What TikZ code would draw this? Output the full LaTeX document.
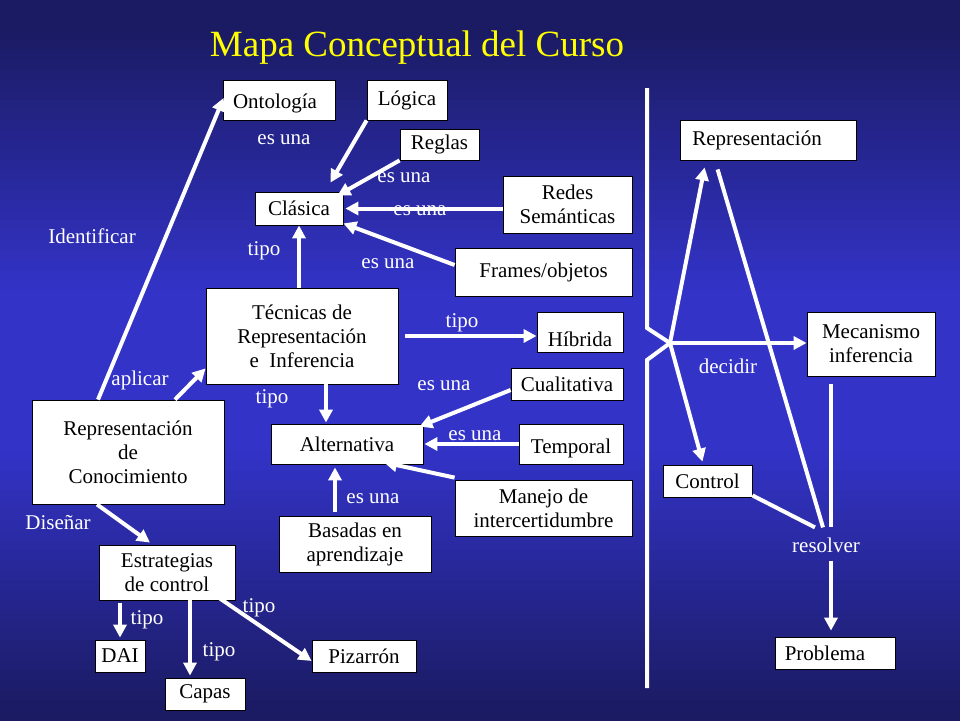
\documentclass[tikz,border=0pt]{standalone}
\usepackage{fontspec}
\setmainfont{Liberation Serif}
\usetikzlibrary{arrows.meta}

\definecolor{fondoarriba}{RGB}{27,27,100}
\definecolor{fondomedio}{RGB}{51,51,200}
\definecolor{amarillo}{RGB}{255,255,0}

\tikzset{
  concepto/.style={draw=black, line width=0.8pt, fill=white, text=black, align=center,
    inner sep=2pt, font=\fontsize{21}{24}\selectfont},
  etiqueta/.style={text=white, inner sep=2pt, font=\fontsize{21}{24}\selectfont},
  titulo/.style={text=amarillo, inner sep=0pt, font=\fontsize{37}{40}\selectfont},
  linea/.style={draw=white, line width=4pt},
  flecha/.style={linea, -{Triangle[length=13pt,width=13pt]}}
}

\begin{document}
\begin{tikzpicture}[x=1pt, y=-1pt]
    % Background, in bands: dark at top and bottom, bright in the middle
    \useasboundingbox (0,0) rectangle (960,720);
    \foreach \i in {0,...,71} {
      \pgfmathsetmacro\p{min(100,max(0,130-abs(\i*10+5-370)/2.6))}
      \fill[fondomedio!\p!fondoarriba] (0,\i*10) rectangle (960,\i*10+10.6);
    }

    \node[titulo] (titulo) at (417,48) {Mapa Conceptual del Curso};

    % Concepts
    \foreach \nombre/\x/\y/\w/\h/\texto in {onto/279/100/112/40/{\rule{0pt}{22pt}Ontología\hspace{8pt}}, logica/407/100/80/40/{Lógica}, reglas/439.5/144.5/79/31/{Reglas}, clasica/299/208.5/88/33/{Clásica}, redes/567.5/204.5/129/57/{Redes\\Semánticas}, frames/543.5/272/177/48/{Frames/objetos}, tecnicas/302/336/192/96/{Técnicas de\\Representación\\e~ Inferencia}, hibrida/580/332/86/40/{\rule{0pt}{30pt}Híbrida}, cualit/567/384/112/32/{Cualitativa}, altern/347/444/152/40/{Alternativa}, temporal/571/444/104/40/{\rule{0pt}{24pt}Temporal}, manejo/543.5/508/177/56/{Manejo de\\intercertidumbre}, basadas/355/544/152/56/{Basadas en\\aprendizaje}, rdc/128/452/192/104/{Representación\\de\\Conocimiento}, estrat/167/572.5/136/55/{Estrategias\\de control}, dai/120/656/50/32/{DAI}, capas/205/694/80/32/{Capas}, pizarron/364/656/104/32/{Pizarrón}, repr/768/140/176/40/{Representación\hspace{22pt}}, mecan/871/344/128/64/{Mecanismo\\inferencia}, control/707.5/481/89/32/{Control}, problema/835/653/120/32/{Problema\hspace{20pt}}} {
      \node[concepto, minimum width=\w pt, minimum height=\h pt] (\nombre) at (\x,\y) {\texto};
    }

    % Link labels
    \foreach \x/\y/\texto [count=\i] in {284/140/es una, 404/178/es una, 420/211/es una, 388/264/es una, 264/251/tipo, 92/236/Identificar, 140/380/aplicar, 272/399/tipo, 462/323/tipo, 444/386/es una, 475/436/es una, 373/499/es una, 58/523/Diseñar, 147/620/tipo, 219/652/tipo, 259/608/tipo, 728/366/decidir} {
      \node[etiqueta] (et\i) at (\x,\y) {\texto};
    }
    \node[etiqueta] (resolver) at (826,545) {resolver};

    % Links of the left map
    \draw[flecha] ([xshift=-30pt]rdc.north) -- ([xshift=1pt,yshift=2pt]onto.west);
    \draw[flecha] ([xshift=47pt]rdc.north) -- ([yshift=16pt]tecnicas.south west);
    \draw[flecha] ([xshift=-31pt]rdc.south) -- ([xshift=-17pt,yshift=2pt]estrat.north);
    \draw[flecha] (tecnicas.north -| clasica.south) -- (clasica.south);
    \draw[flecha] ([xshift=7pt]tecnicas.east) -- (tecnicas.east -| hibrida.west);
    \draw[flecha] ([xshift=24pt]tecnicas.south) -- ([xshift=-21pt,yshift=1pt]altern.north);
    \draw[flecha] (logica.south west) -- ([xshift=-13pt,yshift=9pt]clasica.north east);
    \draw[flecha] (reglas.south west) -- ([xshift=-6pt,yshift=-4pt]clasica.north east);
    \draw[flecha] (redes.west |- clasica.east) -- ([xshift=2pt]clasica.east);
    \draw[flecha] ([yshift=7pt]frames.west) -- ([yshift=2pt]clasica.south east);
    \draw[flecha] ([yshift=-6pt]cualit.west) -- ([xshift=-4pt,yshift=-3pt]altern.north east);
    \draw[flecha] (temporal.west) -- ([xshift=1pt]altern.east);
    \draw[flecha] ([yshift=2pt]manejo.north west) -- ([xshift=37pt,yshift=2pt]altern.south);
    \draw[flecha] ([xshift=-20pt,yshift=4pt]basadas.north) -- ([xshift=-12pt,yshift=-3pt]altern.south);
    \draw[flecha] ([xshift=-47pt,yshift=-3pt]estrat.south) -- ([yshift=2pt]dai.north);
    \draw[flecha] ([xshift=23pt]estrat.south) -- ([xshift=-15pt,yshift=2pt]capas.north);
    \draw[flecha] ([xshift=-20pt,yshift=5pt]estrat.south east) -- ([yshift=-5pt]pizarron.west);

    % Right map
    \coordinate (vtop) at (647,88);
    \coordinate (vbrk1) at (647,328);
    \coordinate (cruce) at (670,343);
    \coordinate (vbrk2) at (647,360);
    \coordinate (vbot) at (647,688);
    \draw[linea] (vtop) -- (vbrk1) -- (cruce) -- (vbrk2) -- (vbot);
    \draw[flecha] (cruce) -- ([xshift=25pt,yshift=-7pt]repr.south west);
    \draw[flecha] (cruce) -- ([xshift=-5pt,yshift=3pt]control.north);
    \draw[flecha] (cruce) -- (cruce -| mecan.west);
    \draw[linea] ([xshift=38pt,yshift=-9pt]repr.south west) -- ([xshift=-3pt,yshift=8pt]resolver.north);
    \draw[linea] ([yshift=2pt]control.south east) -- ([xshift=-11pt,yshift=8pt]resolver.north);
    \draw[linea] ([xshift=-40pt,yshift=-8pt]mecan.south) -- ([xshift=5pt,yshift=8pt]resolver.north);
    \draw[flecha] ([xshift=5pt,yshift=-6pt]resolver.south) -- ([xshift=-4pt,yshift=6pt]problema.north);

\end{tikzpicture}
\end{document}
